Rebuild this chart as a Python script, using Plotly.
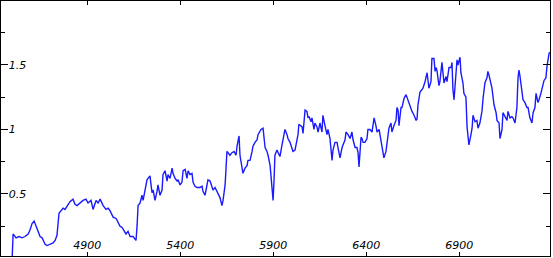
import plotly.graph_objects as go

wavelength = [
    4496, 4501, 4517, 4533, 4549, 4565, 4582, 4592, 4603, 4614, 4625, 4635, 4646, 4657, 4673, 4684,
    4700, 4716, 4727, 4737, 4748, 4759, 4770, 4780, 4797, 4807, 4823, 4834, 4845, 4861, 4877, 4893,
    4904, 4920, 4931, 4947, 4958, 4969, 4985, 5001, 5012, 5022, 5039, 5055, 5065, 5076, 5087, 5098,
    5108, 5119, 5130, 5146, 5162, 5168, 5173,
    5184, 5194, 5200, 5211, 5221, 5237, 5248, 5254, 5264, 5275, 5280, 5291, 5302, 5307, 5318, 5329,
    5334, 5345, 5356, 5361, 5372, 5383, 5388, 5399, 5409, 5415, 5426, 5436, 5442, 5452, 5463, 5469,
    5479, 5490, 5506, 5517, 5522, 5533, 5544, 5549, 5560, 5571, 5576, 5587, 5598, 5603, 5614, 5624,
    5630, 5641, 5646, 5651, 5667, 5678, 5689, 5700, 5705, 5716, 5721, 5732, 5737, 5748, 5759, 5764,
    5775, 5786, 5791, 5802, 5813, 5818, 5834, 5845, 5850, 5856, 5866, 5872, 5883, 5893, 5899, 5904,
    5909, 5920, 5926,
    5936, 5947, 5952, 5963, 5974, 5979, 5990, 6001, 6006, 6017, 6028, 6033, 6038, 6055, 6060, 6071,
    6081, 6087, 6092, 6103, 6108, 6119, 6124, 6135, 6141, 6151, 6162, 6167, 6178, 6189, 6194, 6205,
    6216, 6221, 6232, 6243, 6248, 6259, 6270, 6275, 6286, 6291, 6302, 6313, 6323, 6329, 6340, 6350,
    6356, 6361, 6372, 6377, 6383, 6393, 6404, 6409, 6420, 6431, 6436, 6442, 6452, 6458, 6469, 6479,
    6485, 6495, 6506, 6512, 6522, 6533, 6538, 6549, 6560, 6565, 6571, 6576, 6587, 6592, 6603, 6614,
    6619, 6630, 6641, 6646, 6657, 6668, 6673, 6678, 6689,
    6700, 6705, 6716, 6727, 6732, 6737, 6748, 6753, 6764, 6770, 6775, 6780, 6791, 6796, 6807, 6813,
    6818, 6829, 6834, 6845, 6856, 6861, 6866, 6872, 6883, 6888, 6893, 6904, 6909, 6920, 6925, 6936,
    6942, 6947, 6952, 6963, 6969, 6974, 6985, 6995, 7001, 7011, 7022, 7028, 7038, 7049, 7054, 7060,
    7071, 7076, 7087, 7098, 7103, 7114, 7119, 7130, 7135, 7146, 7157, 7162, 7173, 7183, 7189, 7200,
    7210, 7216, 7221, 7226, 7237, 7243, 7253, 7264, 7270, 7280, 7291, 7297, 7307, 7313, 7323, 7329,
    7339, 7350, 7356, 7366, 7372, 7383, 7388,
]

flux = [
    0.00, 0.19, 0.16, 0.17, 0.16, 0.17, 0.19, 0.22, 0.27, 0.29, 0.25, 0.21, 0.17, 0.16, 0.11, 0.10,
    0.11, 0.12, 0.14, 0.18, 0.35, 0.37, 0.39, 0.38, 0.42, 0.44, 0.46, 0.42, 0.41, 0.43, 0.45, 0.46,
    0.43, 0.45, 0.38, 0.45, 0.43, 0.46, 0.41, 0.38, 0.39, 0.37, 0.32, 0.31, 0.28, 0.25, 0.24, 0.21,
    0.19, 0.21, 0.17, 0.17, 0.14, 0.26, 0.41,
    0.43, 0.49, 0.45, 0.55, 0.61, 0.64, 0.51, 0.53, 0.45, 0.52, 0.57, 0.49, 0.53, 0.65, 0.68, 0.60,
    0.65, 0.62, 0.70, 0.66, 0.62, 0.60, 0.61, 0.57, 0.59, 0.68, 0.69, 0.62, 0.68, 0.65, 0.66, 0.59,
    0.56, 0.55, 0.55, 0.56, 0.52, 0.49, 0.56, 0.61, 0.60, 0.55, 0.53, 0.55, 0.52, 0.51, 0.47, 0.41,
    0.45, 0.57, 0.78, 0.83, 0.80, 0.82, 0.83, 0.80, 0.87, 0.95, 0.80, 0.72, 0.66, 0.70, 0.72, 0.76,
    0.76, 0.83, 0.87, 0.90, 0.92, 0.96, 1.00, 1.01, 0.96, 0.86, 0.83, 0.80, 0.72, 0.55, 0.45, 0.60,
    0.80, 0.84, 0.82,
    0.79, 0.88, 0.92, 1.00, 0.96, 0.93, 0.90, 0.86, 0.83, 0.84, 0.93, 0.96, 1.04, 1.02, 0.97, 1.15,
    1.14, 1.09, 1.10, 1.06, 1.09, 1.00, 1.05, 1.02, 0.98, 1.05, 0.98, 1.11, 1.03, 0.96, 1.00, 0.93,
    0.76, 0.84, 0.90, 0.90, 0.86, 0.78, 0.86, 0.88, 0.92, 0.98, 0.96, 0.93, 0.98, 0.92, 0.86, 0.86,
    0.82, 0.71, 0.94, 0.93, 0.90, 0.90, 0.93, 1.00, 1.00, 0.98, 1.05, 1.09, 1.03, 0.98, 1.00, 0.92,
    0.88, 0.78, 0.83, 0.92, 1.01, 1.05, 0.98, 1.03, 1.07, 1.17, 1.15, 1.03, 1.17, 1.17, 1.24, 1.27,
    1.25, 1.21, 1.15, 1.14, 1.11, 1.07, 1.08, 1.19, 1.29,
    1.31, 1.32, 1.37, 1.44, 1.38, 1.32, 1.37, 1.55, 1.55, 1.45, 1.48, 1.46, 1.34, 1.37, 1.52, 1.40,
    1.36, 1.41, 1.37, 1.48, 1.48, 1.52, 1.31, 1.23, 1.40, 1.54, 1.50, 1.56, 1.44, 1.36, 1.28, 1.25,
    1.02, 0.96, 0.88, 0.96, 1.01, 1.11, 1.06, 1.07, 1.01, 1.05, 1.14, 1.24, 1.36, 1.40, 1.45, 1.42,
    1.36, 1.32, 1.19, 1.13, 1.07, 1.05, 0.93, 1.00, 1.13, 1.10, 1.07, 1.14, 1.09, 1.10, 1.09, 1.05,
    1.17, 1.40, 1.46, 1.42, 1.29, 1.23, 1.21, 1.17, 1.17, 1.09, 1.05, 1.13, 1.17, 1.28, 1.21, 1.23,
    1.28, 1.36, 1.38, 1.40, 1.49, 1.59, 1.60,
]

x_ticks = [4900, 5400, 5900, 6400, 6900]
x_tick_labels = ["4900", "5400", "5900", "6400", "6900"]
y_ticks = [0.5, 1, 1.5]
y_tick_labels = ["0.5", "1", "1.5"]
y_minor_ticks = [0.25, 0.75, 1.25, 1.75]

tick_font = dict(family="DejaVu Sans", size=11, color="black", style="italic")

fig = go.Figure()
fig.add_trace(go.Scatter(
    x=wavelength, y=flux, mode="lines",
    line=dict(color="#1a1aff", width=1.4),
    hoverinfo="skip", showlegend=False,
))

fig.update_layout(
    width=553, height=258,
    margin=dict(l=1, r=3, t=1, b=2),
    paper_bgcolor="white", plot_bgcolor="white",
    showlegend=False,
)
fig.update_xaxes(
    range=[4436, 7388],
    tickvals=x_ticks, ticktext=x_tick_labels,
    ticks="inside", ticklen=4, tickcolor="black", tickwidth=1,
    ticklabelposition="inside", tickfont=tick_font,
    showline=True, linecolor="black", linewidth=1, mirror="ticks",
    showgrid=False, zeroline=False,
)
fig.update_yaxes(
    range=[0.019, 1.996],
    tickvals=y_ticks, ticktext=y_tick_labels,
    ticks="inside", ticklen=7, tickcolor="black", tickwidth=1,
    ticklabelposition="inside", tickfont=tick_font,
    minor=dict(tickvals=y_minor_ticks, ticks="inside", ticklen=4, tickcolor="black", showgrid=False),
    showline=True, linecolor="black", linewidth=1, mirror="ticks",
    showgrid=False, zeroline=False,
)

fig.write_html("out.html")
